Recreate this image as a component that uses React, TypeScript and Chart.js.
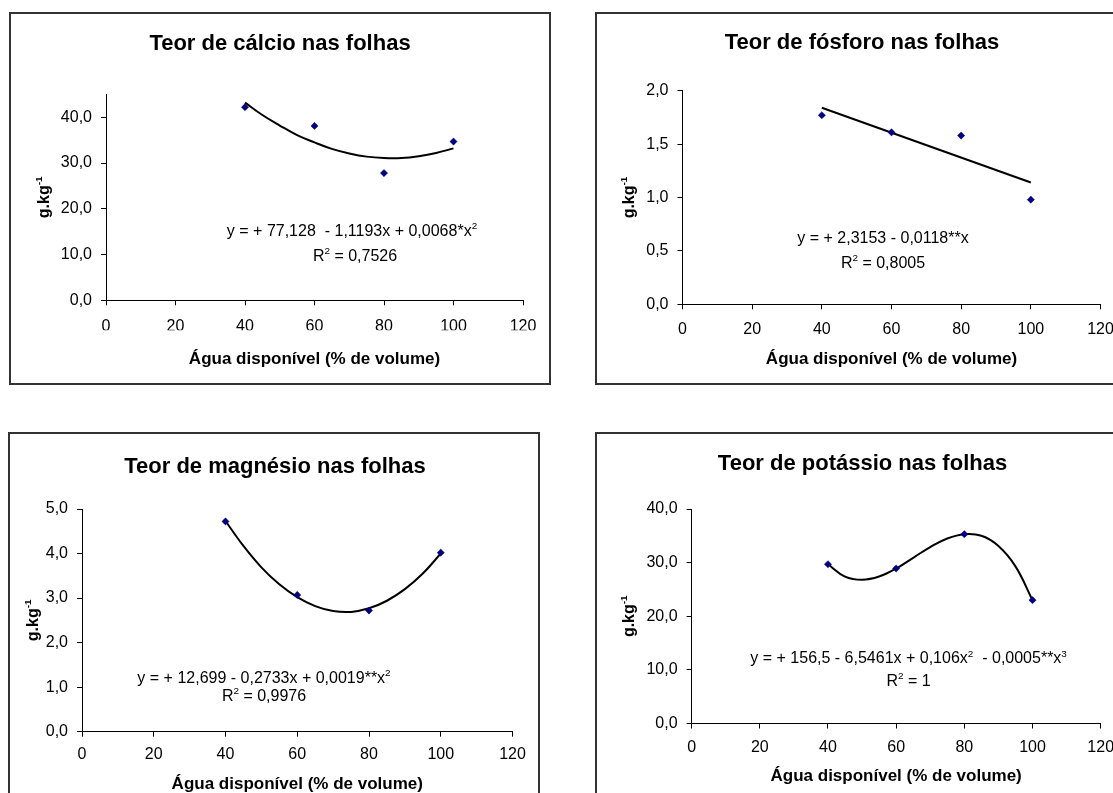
import React, { useEffect, useRef } from 'react';
import { Chart, registerables } from 'chart.js';

Chart.register(...registerables);

const FONT = "'Liberation Sans', Arial, Helvetica, sans-serif";

// Water availability levels (% of volume) and axis ticks
const waterLevels = [40, 60, 80, 100];
const xTickValues = [0, 20, 40, 60, 80, 100, 120];
const trendWater = [40, 45, 50, 55, 60, 65, 70, 75, 80, 85, 90, 95, 100];

// Calcium in leaves (g.kg-1)
const calcioValues = [42.2, 38.1, 27.8, 34.7];
const calcioTrend = [43.2, 40.5, 38.2, 36.1, 34.5, 33.1, 32.1, 31.4, 31.1, 31.1, 31.5, 32.2, 33.2];
const calcioYTicks = [0, 10, 20, 30, 40];

// Phosphorus in leaves (g.kg-1)
const fosforoValues = [1.77, 1.61, 1.58, 0.98];
const fosforoTrendWater = [40, 100];
const fosforoTrend = [1.84, 1.14];
const fosforoYTicks = [0, 0.5, 1, 1.5, 2];

// Magnesium in leaves (g.kg-1)
const magnesioValues = [4.72, 3.07, 2.72, 4.02];
const magnesioTrend = [4.73, 4.17, 3.69, 3.31, 3.02, 2.82, 2.71, 2.69, 2.77, 2.94, 3.2, 3.55, 4.0];
const magnesioYTicks = [0, 1, 2, 3, 4, 5];

// Potassium in leaves (g.kg-1)
const potassioValues = [29.7, 28.9, 35.3, 23.0];
const potassioTrend = [29.7, 27.4, 26.8, 27.4, 28.9, 30.9, 32.9, 34.5, 35.3, 35.0, 33.1, 29.3, 23.0];
const potassioYTicks = [0, 10, 20, 30, 40];

type Part = { text: string; sup?: boolean };
type TextItem = { x: number; y: number; parts: Part[]; size: number; bold?: boolean; rotate?: boolean };

const X_AXIS_H = 30;

type PanelSpec = {
  box: { left: number; top: number; w: number; h: number };
  plot: { left: number; right: number; top: number; bottom: number };
  yMax: number;
  yTicks: number[];
  values: number[];
  trendX: number[];
  trend: number[];
  xPad: number;
  title: string;
  titleY: number;
  titleX: number;
  yTitleX: number;
  xTitleY: number;
  eq: Part[];
  eqPos: [number, number];
  r2: Part[];
  r2Pos: [number, number];
};

const panels: PanelSpec[] = [
  {
    box: { left: 9, top: 12, w: 542, h: 373 },
    plot: { left: 95, right: 512, top: 80.4, bottom: 286.3 },
    yMax: 45,
    yTicks: calcioYTicks,
    values: calcioValues,
    trendX: trendWater,
    trend: calcioTrend,
    xPad: 12,
    title: 'Teor de cálcio nas folhas',
    titleX: 269,
    titleY: 27.7,
    yTitleX: 32,
    xTitleY: 344,
    eq: [{ text: 'y = + 77,128  - 1,1193x + 0,0068*x' }, { text: '2', sup: true }],
    eqPos: [341, 216],
    r2: [{ text: 'R' }, { text: '2', sup: true }, { text: ' = 0,7526' }],
    r2Pos: [344, 241],
  },
  {
    box: { left: 595, top: 12, w: 542, h: 373 },
    plot: { left: 85.5, right: 503.5, top: 76.7, bottom: 290.3 },
    yMax: 2,
    yTicks: fosforoYTicks,
    values: fosforoValues,
    trendX: fosforoTrendWater,
    trend: fosforoTrend,
    xPad: 11,
    title: 'Teor de fósforo nas folhas',
    titleX: 265,
    titleY: 27,
    yTitleX: 31,
    xTitleY: 344,
    eq: [{ text: 'y = + 2,3153 - 0,0118**x' }],
    eqPos: [286, 223],
    r2: [{ text: 'R' }, { text: '2', sup: true }, { text: ' = 0,8005' }],
    r2Pos: [286, 248],
  },
  {
    box: { left: 8, top: 432, w: 532, h: 420 },
    plot: { left: 72, right: 502.5, top: 75, bottom: 297.7 },
    yMax: 5,
    yTicks: magnesioYTicks,
    values: magnesioValues,
    trendX: trendWater,
    trend: magnesioTrend,
    xPad: 8,
    title: 'Teor de magnésio nas folhas',
    titleX: 265,
    titleY: 31,
    yTitleX: 22,
    xTitleY: 349,
    eq: [{ text: 'y = + 12,699 - 0,2733x + 0,0019**x' }, { text: '2', sup: true }],
    eqPos: [254, 243],
    r2: [{ text: 'R' }, { text: '2', sup: true }, { text: ' = 0,9976' }],
    r2Pos: [254, 261],
  },
  {
    box: { left: 595, top: 432, w: 542, h: 420 },
    plot: { left: 94.6, right: 503.7, top: 75, bottom: 289.5 },
    yMax: 40,
    yTicks: potassioYTicks,
    values: potassioValues,
    trendX: trendWater,
    trend: potassioTrend,
    xPad: 9.5,
    title: 'Teor de potássio nas folhas',
    titleX: 265.5,
    titleY: 27.7,
    yTitleX: 31,
    xTitleY: 341,
    eq: [
      { text: 'y = + 156,5 - 6,5461x + 0,106x' },
      { text: '2', sup: true },
      { text: '  - 0,0005**x' },
      { text: '3', sup: true },
    ],
    eqPos: [311.6, 223.7],
    r2: [{ text: 'R' }, { text: '2', sup: true }, { text: ' = 1' }],
    r2Pos: [311.6, 246],
  },
];

function drawRich(ctx: CanvasRenderingContext2D, item: TextItem) {
  const { x, y, parts, size, bold, rotate } = item;
  const supSize = size * 0.62;
  const font = (s: number) => `${bold ? 'bold ' : ''}${s}px ${FONT}`;
  ctx.save();
  ctx.translate(x, y);
  if (rotate) ctx.rotate(-Math.PI / 2);
  let total = 0;
  const widths = parts.map((p) => {
    ctx.font = font(p.sup ? supSize : size);
    const w = ctx.measureText(p.text).width;
    total += w;
    return w;
  });
  let cur = -total / 2;
  const base = size * 0.36;
  ctx.textAlign = 'left';
  ctx.textBaseline = 'alphabetic';
  ctx.fillStyle = '#000';
  parts.forEach((p, i) => {
    ctx.font = font(p.sup ? supSize : size);
    ctx.fillText(p.text, cur, p.sup ? base - size * 0.42 : base);
    cur += widths[i];
  });
  ctx.restore();
}

const fmtY = (v: number) => v.toFixed(1).replace('.', ',');

function Panel({ spec }: { spec: PanelSpec }) {
  const ref = useRef<HTMLCanvasElement>(null);
  const W = spec.box.w - 4;
  const H = spec.box.h - 4;

  useEffect(() => {
    const { plot } = spec;
    const textPlugin = {
      id: 'panelText',
      afterDraw(chart: any) {
        const ctx = chart.ctx as CanvasRenderingContext2D;
        const area = chart.chartArea;
        const items: TextItem[] = [
          { x: spec.titleX, y: spec.titleY, parts: [{ text: spec.title }], size: 22, bold: true },
          { x: (area.left + area.right) / 2, y: spec.xTitleY, parts: [{ text: 'Água disponível (% de volume)' }], size: 17, bold: true },
          {
            x: spec.yTitleX,
            y: (area.top + area.bottom) / 2,
            parts: [{ text: 'g.kg' }, { text: '-1', sup: true }],
            size: 16,
            bold: true,
            rotate: true,
          },
          { x: spec.eqPos[0], y: spec.eqPos[1], parts: spec.eq, size: 16 },
          { x: spec.r2Pos[0], y: spec.r2Pos[1], parts: spec.r2, size: 16 },
        ];
        items.forEach((it) => drawRich(ctx, it));
      },
    };

    const chart = new Chart(ref.current as HTMLCanvasElement, {
      type: 'scatter',
      data: {
        datasets: [
          {
            data: waterLevels.map((x, i) => ({ x, y: spec.values[i] })),
            pointStyle: 'rectRot',
            pointRadius: 3.6,
            pointBackgroundColor: '#000080',
            pointBorderColor: '#000080',
            pointBorderWidth: 0.5,
            showLine: false,
          },
          {
            data: spec.trendX.map((x, i) => ({ x, y: spec.trend[i] })),
            showLine: true,
            borderColor: '#000',
            borderWidth: 2,
            pointRadius: 0,
            tension: spec.trendX.length > 2 ? 0.4 : 0,
            fill: false,
          },
        ],
      },
      options: {
        animation: false,
        responsive: false,
        events: [],
        layout: {
          padding: {
            left: 0,
            top: plot.top,
            right: W - plot.right,
            bottom: H - plot.bottom - X_AXIS_H,
          },
        },
        plugins: {
          legend: { display: false },
          tooltip: { enabled: false },
          title: { display: false },
        },
        scales: {
          x: {
            type: 'linear',
            min: 0,
            max: 120,
            afterBuildTicks: (axis: any) => {
              axis.ticks = xTickValues.map((v) => ({ value: v }));
            },
            afterFit: (s: any) => {
              s.height = X_AXIS_H;
              s.paddingLeft = 0;
              s.paddingRight = 0;
            },
            grid: { drawOnChartArea: false, drawTicks: true, tickLength: 5, color: '#000', lineWidth: 1 },
            border: { display: true, color: '#000', width: 1 },
            ticks: {
              color: '#000',
              font: { family: FONT, size: 16 },
              padding: spec.xPad,
              maxRotation: 0,
              autoSkip: false,
              callback: (v: any) => String(v),
            },
          },
          y: {
            type: 'linear',
            min: 0,
            max: spec.yMax,
            afterBuildTicks: (axis: any) => {
              axis.ticks = spec.yTicks.map((v) => ({ value: v }));
            },
            afterFit: (s: any) => {
              s.width = plot.left;
              s.paddingTop = 0;
              s.paddingBottom = 0;
            },
            grid: { drawOnChartArea: false, drawTicks: true, tickLength: 5, color: '#000', lineWidth: 1 },
            border: { display: true, color: '#000', width: 1 },
            ticks: {
              color: '#000',
              font: { family: FONT, size: 16 },
              padding: 9,
              autoSkip: false,
              callback: (v: any) => fmtY(Number(v)),
            },
          },
        },
      } as any,
      plugins: [textPlugin],
    });
    return () => chart.destroy();
  }, []);

  return (
    <div
      style={{
        position: 'absolute',
        left: spec.box.left,
        top: spec.box.top,
        width: spec.box.w,
        height: spec.box.h,
        border: '2px solid #333',
        boxSizing: 'border-box',
        background: '#fff',
      }}
    >
      <canvas ref={ref} width={W} height={H} style={{ display: 'block', width: W, height: H }} />
    </div>
  );
}

export default function App() {
  return (
    <div
      style={{
        position: 'fixed',
        left: 0,
        top: 0,
        width: 1113,
        height: 793,
        overflow: 'hidden',
        background: '#fff',
      }}
    >
      {panels.map((p, i) => (
        <Panel key={i} spec={p} />
      ))}
    </div>
  );
}
